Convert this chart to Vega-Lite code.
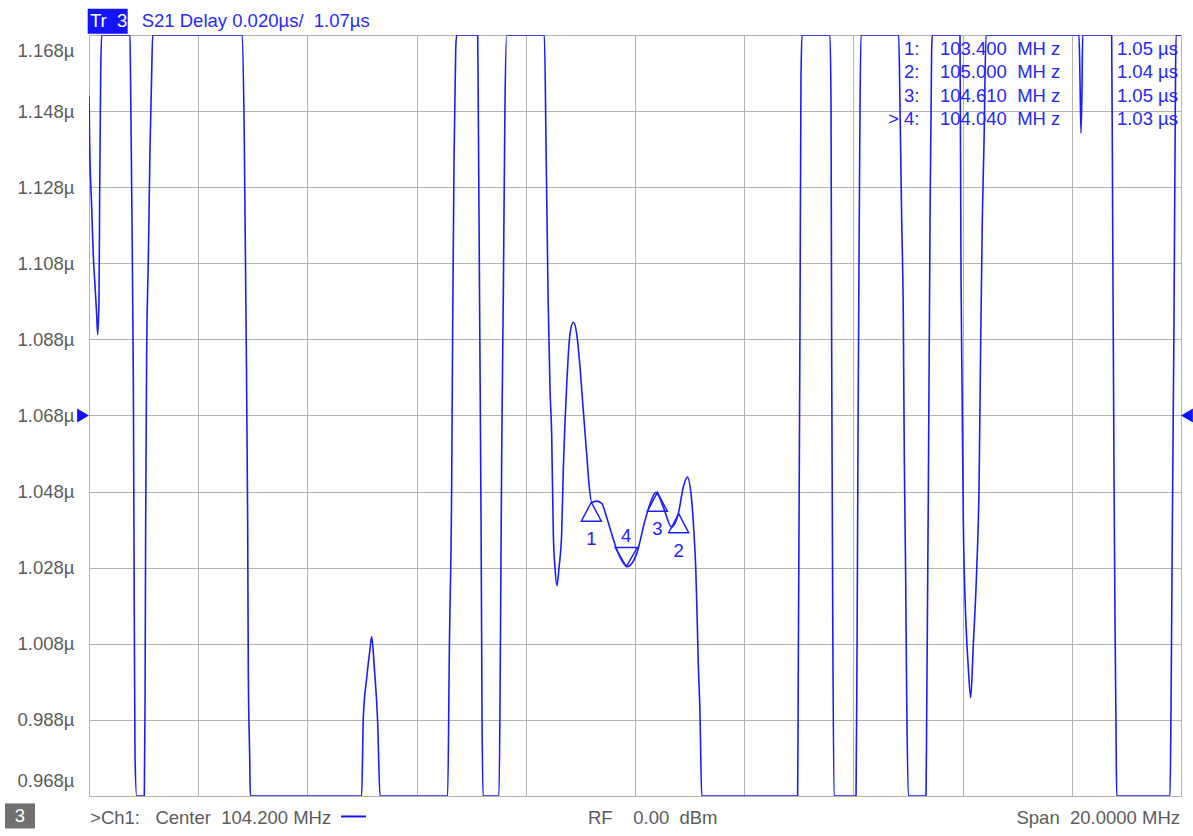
{
  "$schema": "https://vega.github.io/schema/vega-lite/v6.json",
  "width": 1092,
  "height": 761,
  "autosize": {"type": "none"},
  "padding": {"left": 89, "top": 35, "right": 12, "bottom": 40},
  "background": "white",
  "config": {
    "view": {"stroke": "#7d7d7d", "strokeWidth": 1},
    "font": "Liberation Sans",
    "text": {"font": "Liberation Sans", "fontSize": 18.5}
  },
  "datasets": {
    "trace": [
      {"freq": 94.200, "delay": 1.152}, {"freq": 94.212, "delay": 1.1396}, {"freq": 94.249, "delay": 1.1228},
      {"freq": 94.279, "delay": 1.1099}, {"freq": 94.310, "delay": 1.1022}, {"freq": 94.341, "delay": 1.0944},
      {"freq": 94.359, "delay": 1.0893}, {"freq": 94.383, "delay": 1.0983}, {"freq": 94.395, "delay": 1.1254},
      {"freq": 94.414, "delay": 1.1577}, {"freq": 94.432, "delay": 1.168}, {"freq": 94.951, "delay": 1.168},
      {"freq": 94.963, "delay": 1.1538}, {"freq": 94.982, "delay": 1.1267}, {"freq": 95.012, "delay": 1.0777},
      {"freq": 95.030, "delay": 1.0145}, {"freq": 95.043, "delay": 0.9783}, {"freq": 95.073, "delay": 0.968},
      {"freq": 95.213, "delay": 0.968}, {"freq": 95.226, "delay": 0.9912}, {"freq": 95.238, "delay": 1.0403},
      {"freq": 95.256, "delay": 1.0841}, {"freq": 95.287, "delay": 1.1093}, {"freq": 95.317, "delay": 1.1377},
      {"freq": 95.348, "delay": 1.1577}, {"freq": 95.366, "delay": 1.168}, {"freq": 97.008, "delay": 1.168},
      {"freq": 97.045, "delay": 1.1396}, {"freq": 97.076, "delay": 1.0932}, {"freq": 97.106, "delay": 1.0396},
      {"freq": 97.118, "delay": 1.0003}, {"freq": 97.143, "delay": 0.9783}, {"freq": 97.155, "delay": 0.968},
      {"freq": 99.194, "delay": 0.968}, {"freq": 99.224, "delay": 0.9887}, {"freq": 99.286, "delay": 0.999},
      {"freq": 99.347, "delay": 1.0067}, {"freq": 99.377, "delay": 1.0099}, {"freq": 99.426, "delay": 1.0016},
      {"freq": 99.487, "delay": 0.9874}, {"freq": 99.530, "delay": 0.968}, {"freq": 100.769, "delay": 0.968},
      {"freq": 100.800, "delay": 1.0067}, {"freq": 100.842, "delay": 1.0493}, {"freq": 100.861, "delay": 1.0919},
      {"freq": 100.885, "delay": 1.1345}, {"freq": 100.916, "delay": 1.1641}, {"freq": 100.934, "delay": 1.168},
      {"freq": 101.319, "delay": 1.168}, {"freq": 101.331, "delay": 1.1461}, {"freq": 101.355, "delay": 1.0945},
      {"freq": 101.380, "delay": 1.0416}, {"freq": 101.398, "delay": 0.9899}, {"freq": 101.416, "delay": 0.968},
      {"freq": 101.709, "delay": 0.968}, {"freq": 101.734, "delay": 1.0054}, {"freq": 101.758, "delay": 1.057},
      {"freq": 101.789, "delay": 1.1009}, {"freq": 101.819, "delay": 1.1499}, {"freq": 101.850, "delay": 1.168},
      {"freq": 102.540, "delay": 1.168}, {"freq": 102.570, "delay": 1.140}, {"freq": 102.607, "delay": 1.100},
      {"freq": 102.643, "delay": 1.075}, {"freq": 102.674, "delay": 1.063}, {"freq": 102.704, "delay": 1.037},
      {"freq": 102.735, "delay": 1.028}, {"freq": 102.771, "delay": 1.0233}, {"freq": 102.808, "delay": 1.028},
      {"freq": 102.857, "delay": 1.037}, {"freq": 102.887, "delay": 1.054}, {"freq": 102.918, "delay": 1.066},
      {"freq": 102.949, "delay": 1.076}, {"freq": 103.010, "delay": 1.0895}, {"freq": 103.070, "delay": 1.0925},
      {"freq": 103.132, "delay": 1.0895}, {"freq": 103.193, "delay": 1.0807}, {"freq": 103.253, "delay": 1.0693},
      {"freq": 103.315, "delay": 1.0579}, {"freq": 103.363, "delay": 1.0492}, {"freq": 103.407, "delay": 1.0452},
      {"freq": 103.486, "delay": 1.0455}, {"freq": 103.590, "delay": 1.0449}, {"freq": 103.679, "delay": 1.0413},
      {"freq": 103.773, "delay": 1.0369}, {"freq": 103.852, "delay": 1.0333}, {"freq": 103.925, "delay": 1.0308},
      {"freq": 104.059, "delay": 1.0283}, {"freq": 104.231, "delay": 1.0317}, {"freq": 104.383, "delay": 1.0404},
      {"freq": 104.475, "delay": 1.0448}, {"freq": 104.585, "delay": 1.0478}, {"freq": 104.718, "delay": 1.0439},
      {"freq": 104.872, "delay": 1.0386}, {"freq": 104.993, "delay": 1.0422}, {"freq": 105.085, "delay": 1.0492},
      {"freq": 105.158, "delay": 1.0518}, {"freq": 105.238, "delay": 1.0457}, {"freq": 105.281, "delay": 1.0369},
      {"freq": 105.312, "delay": 1.0281}, {"freq": 105.330, "delay": 1.0194}, {"freq": 105.359, "delay": 1.0029},
      {"freq": 105.390, "delay": 0.9899}, {"freq": 105.422, "delay": 0.968}, {"freq": 107.179, "delay": 0.968},
      {"freq": 107.192, "delay": 1.0054}, {"freq": 107.210, "delay": 1.057}, {"freq": 107.222, "delay": 1.0932},
      {"freq": 107.240, "delay": 1.1564}, {"freq": 107.259, "delay": 1.168}, {"freq": 107.771, "delay": 1.168},
      {"freq": 107.790, "delay": 1.1499}, {"freq": 107.802, "delay": 1.0841}, {"freq": 107.820, "delay": 1.0209},
      {"freq": 107.845, "delay": 0.968}, {"freq": 108.248, "delay": 0.968}, {"freq": 108.266, "delay": 1.0054},
      {"freq": 108.285, "delay": 1.0635}, {"freq": 108.303, "delay": 1.1099}, {"freq": 108.321, "delay": 1.1486},
      {"freq": 108.339, "delay": 1.168}, {"freq": 109.029, "delay": 1.168}, {"freq": 109.053, "delay": 1.150},
      {"freq": 109.084, "delay": 1.120}, {"freq": 109.114, "delay": 1.094}, {"freq": 109.133, "delay": 1.056},
      {"freq": 109.157, "delay": 1.026}, {"freq": 109.176, "delay": 0.994}, {"freq": 109.206, "delay": 0.968},
      {"freq": 109.530, "delay": 0.968}, {"freq": 109.542, "delay": 0.9887}, {"freq": 109.572, "delay": 1.0467},
      {"freq": 109.603, "delay": 1.1177}, {"freq": 109.633, "delay": 1.1641}, {"freq": 109.646, "delay": 1.168},
      {"freq": 110.152, "delay": 1.168}, {"freq": 110.171, "delay": 1.1048}, {"freq": 110.195, "delay": 1.0687},
      {"freq": 110.213, "delay": 1.0403}, {"freq": 110.232, "delay": 1.0261}, {"freq": 110.262, "delay": 1.0132},
      {"freq": 110.305, "delay": 1.0016}, {"freq": 110.348, "delay": 0.9938}, {"freq": 110.397, "delay": 1.008},
      {"freq": 110.458, "delay": 1.0274}, {"freq": 110.501, "delay": 1.0493}, {"freq": 110.531, "delay": 1.0867},
      {"freq": 110.562, "delay": 1.1203}, {"freq": 110.592, "delay": 1.1396}, {"freq": 110.629, "delay": 1.168},
      {"freq": 112.332, "delay": 1.168}, {"freq": 112.350, "delay": 1.1564}, {"freq": 112.368, "delay": 1.1422},
      {"freq": 112.387, "delay": 1.1538}, {"freq": 112.399, "delay": 1.168}, {"freq": 112.930, "delay": 1.168},
      {"freq": 112.949, "delay": 1.1177}, {"freq": 112.973, "delay": 1.0532}, {"freq": 112.991, "delay": 1.0145},
      {"freq": 113.010, "delay": 0.9861}, {"freq": 113.022, "delay": 0.968}, {"freq": 113.999, "delay": 0.968},
      {"freq": 114.017, "delay": 0.9912}, {"freq": 114.042, "delay": 1.0403}, {"freq": 114.072, "delay": 1.0932},
      {"freq": 114.096, "delay": 1.1499}, {"freq": 114.109, "delay": 1.168}, {"freq": 114.200, "delay": 1.168}
    ],
    "markers": [
      {"marker": 1, "freq": 103.4, "delay": 1.0452, "tag": "1:", "active": "", "freqText": "103.400\u00a0\u00a0MH z", "readout": "1.05 µs"},
      {"marker": 2, "freq": 105.0, "delay": 1.0422, "tag": "2:", "active": "", "freqText": "105.000\u00a0\u00a0MH z", "readout": "1.04 µs"},
      {"marker": 3, "freq": 104.61, "delay": 1.0478, "tag": "3:", "active": "", "freqText": "104.610\u00a0\u00a0MH z", "readout": "1.05 µs"},
      {"marker": 4, "freq": 104.04, "delay": 1.0283, "tag": "4:", "active": ">", "freqText": "104.040\u00a0\u00a0MH z", "readout": "1.03 µs"}
    ]
  },
  "layer": [
    {
      "layer": [
        {
          "data": {"name": "trace"},
          "mark": {"type": "line", "clip": true, "color": "#1c1cff", "strokeWidth": 1.6, "interpolate": "monotone"},
          "encoding": {
            "x": {
              "field": "freq", "type": "quantitative",
              "scale": {"domain": [94.2, 114.2], "nice": false, "zero": false},
              "axis": {"values": [94.2, 96.2, 98.2, 100.2, 102.2, 104.2, 106.2, 108.2, 110.2, 112.2, 114.2],
                       "labels": false, "ticks": false, "domain": false, "grid": true,
                       "gridColor": "#b4b4b4", "gridWidth": 1, "title": null}
            },
            "y": {
              "field": "delay", "type": "quantitative",
              "scale": {"domain": [0.968, 1.168], "nice": false, "zero": false},
              "axis": {"values": [0.968, 0.988, 1.008, 1.028, 1.048, 1.068, 1.088, 1.108, 1.128, 1.148, 1.168],
                       "labelExpr": "format(datum.value, '.3f') + 'µ'",
                       "labelFont": "Liberation Sans", "labelFontSize": 18.5, "labelColor": "#5c5c5c",
                       "labelPadding": 15, "ticks": false, "domain": false, "grid": true,
                       "gridColor": "#b4b4b4", "gridWidth": 1, "labelFlush": true, "labelFlushOffset": -6,
                       "title": null}
            }
          }
        },
        {
          "data": {"name": "markers"},
          "transform": [{"filter": "datum.marker != 4"}],
          "mark": {"type": "point", "shape": "M0,0L1,1.9L-1,1.9Z", "size": 400, "filled": false, "stroke": "#2020ff", "strokeWidth": 1.5, "opacity": 1},
          "encoding": {"x": {"field": "freq", "type": "quantitative"}, "y": {"field": "delay", "type": "quantitative"}}
        },
        {
          "data": {"name": "markers"},
          "transform": [{"filter": "datum.marker == 4"}],
          "mark": {"type": "point", "shape": "M0,0L1.1,-1.9L-1.1,-1.9Z", "size": 400, "filled": false, "stroke": "#2020ff", "strokeWidth": 1.5, "opacity": 1},
          "encoding": {"x": {"field": "freq", "type": "quantitative"}, "y": {"field": "delay", "type": "quantitative"}}
        },
        {
          "data": {"name": "markers"},
          "transform": [{"filter": "datum.marker != 4"}],
          "mark": {"type": "text", "dy": 37, "align": "center", "baseline": "middle", "color": "#2020ff", "fontSize": 18.5},
          "encoding": {"x": {"field": "freq", "type": "quantitative"}, "y": {"field": "delay", "type": "quantitative"}, "text": {"field": "marker", "type": "nominal"}}
        },
        {
          "data": {"name": "markers"},
          "transform": [{"filter": "datum.marker == 4"}],
          "mark": {"type": "text", "dy": -31, "align": "center", "baseline": "middle", "color": "#2020ff", "fontSize": 18.5},
          "encoding": {"x": {"field": "freq", "type": "quantitative"}, "y": {"field": "delay", "type": "quantitative"}, "text": {"field": "marker", "type": "nominal"}}
        },
        {
          "data": {"values": [{}]},
          "mark": {"type": "point", "shape": "M0,0L-1.7,-1L-1.7,1Z", "size": 196, "filled": true, "color": "#1010ff", "opacity": 1},
          "encoding": {"x": {"datum": 94.2}, "y": {"datum": 1.068}}
        },
        {
          "data": {"values": [{}]},
          "mark": {"type": "point", "shape": "M0,0L1.7,-1L1.7,1Z", "size": 196, "filled": true, "color": "#1010ff", "opacity": 1},
          "encoding": {"x": {"datum": 114.2}, "y": {"datum": 1.068}}
        },
        {
          "data": {"values": [{}]},
          "mark": {"type": "rect", "color": "#1414ff"},
          "encoding": {"x": {"datum": 94.176}, "x2": {"datum": 94.909}, "y": {"datum": 1.17488}, "y2": {"datum": 1.16831}}
        },
        {
          "data": {"values": [{}]},
          "mark": {"type": "text", "text": "Tr\u00a0\u00a03", "align": "left", "baseline": "middle", "color": "white", "fontSize": 18.5},
          "encoding": {"x": {"datum": 94.218}, "y": {"datum": 1.17181}}
        },
        {
          "data": {"values": [{}]},
          "mark": {"type": "text", "text": "S21 Delay 0.020µs/\u00a0\u00a01.07µs", "align": "left", "baseline": "middle", "color": "#2a2aff", "fontSize": 18.5},
          "encoding": {"x": {"datum": 95.165}, "y": {"datum": 1.17181}}
        },
        {
          "data": {"values": [{}]},
          "mark": {"type": "rect", "color": "#707070"},
          "encoding": {"x": {"datum": 92.6615}, "x2": {"datum": 93.211}, "y": {"datum": 0.96604}, "y2": {"datum": 0.95946}}
        },
        {
          "data": {"values": [{}]},
          "mark": {"type": "text", "text": "3", "align": "center", "baseline": "middle", "color": "white", "fontSize": 18.5},
          "encoding": {"x": {"datum": 92.936}, "y": {"datum": 0.96275}}
        },
        {
          "data": {"values": [{}]},
          "mark": {"type": "text", "text": ">Ch1:\u00a0\u00a0\u00a0Center\u00a0\u00a0104.200 MHz", "align": "left", "baseline": "middle", "color": "#5c5c5c", "fontSize": 18.5},
          "encoding": {"x": {"datum": 94.22}, "y": {"datum": 0.96209}}
        },
        {
          "data": {"values": [{}]},
          "mark": {"type": "rule", "color": "#1414ff", "strokeWidth": 2},
          "encoding": {"x": {"datum": 98.815}, "x2": {"datum": 99.273}, "y": {"datum": 0.96262}}
        },
        {
          "data": {"values": [{}]},
          "mark": {"type": "text", "text": "RF\u00a0\u00a0\u00a0\u00a00.00\u00a0\u00a0dBm", "align": "left", "baseline": "middle", "color": "#5c5c5c", "fontSize": 18.5},
          "encoding": {"x": {"datum": 103.339}, "y": {"datum": 0.96209}}
        },
        {
          "data": {"values": [{}]},
          "mark": {"type": "text", "text": "Span\u00a0\u00a020.0000 MHz", "align": "right", "baseline": "middle", "color": "#5c5c5c", "fontSize": 18.5},
          "encoding": {"x": {"datum": 114.182}, "y": {"datum": 0.96209}}
        }
      ]
    },
    {
      "data": {"name": "markers"},
      "encoding": {
        "y": {"field": "marker", "type": "ordinal", "scale": {"type": "point", "range": [14, 84], "padding": 0}, "axis": null}
      },
      "layer": [
        {"mark": {"type": "text", "align": "left", "baseline": "middle", "color": "#2626ff", "fontSize": 18.5},
         "encoding": {"x": {"datum": 108.834}, "text": {"field": "active"}}},
        {"mark": {"type": "text", "align": "left", "baseline": "middle", "color": "#2626ff", "fontSize": 18.5},
         "encoding": {"x": {"datum": 109.127}, "text": {"field": "tag"}}},
        {"mark": {"type": "text", "align": "left", "baseline": "middle", "color": "#2626ff", "fontSize": 18.5},
         "encoding": {"x": {"datum": 109.786}, "text": {"field": "freqText"}}},
        {"mark": {"type": "text", "align": "right", "baseline": "middle", "color": "#2626ff", "fontSize": 18.5},
         "encoding": {"x": {"datum": 114.145}, "text": {"field": "readout"}}}
      ]
    }
  ],
  "resolve": {"scale": {"y": "independent"}}
}
